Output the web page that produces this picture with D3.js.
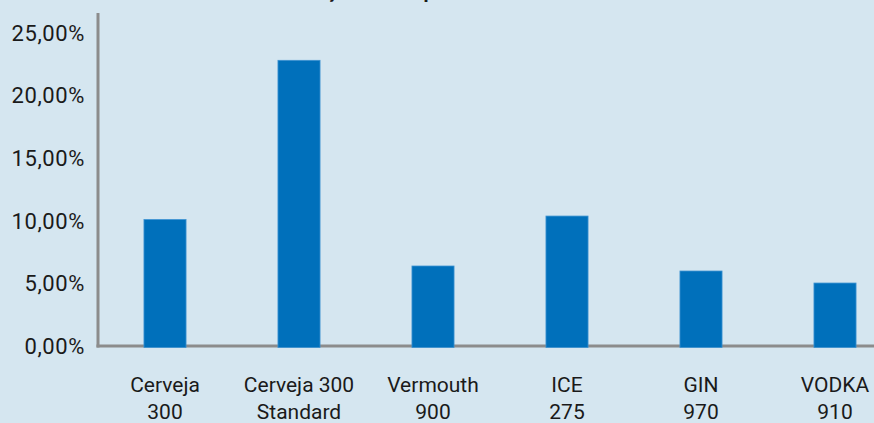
<!DOCTYPE html>
<html>
<head>
<meta charset="utf-8">
<script src="https://cdn.jsdelivr.net/npm/d3@7"></script>
<style>
  html, body { margin: 0; padding: 0; background: #d5e6f0; }
  svg { display: block; }
  text { font-family: Roboto, "Noto Sans", sans-serif; fill: #1a1a1a; }
</style>
</head>
<body>
<svg id="chart" width="874" height="423"></svg>
<script>
const categories = [["Cerveja", "300"], ["Cerveja 300", "Standard"], ["Vermouth", "900"], ["ICE", "275"], ["GIN", "970"], ["VODKA", "910"]];
const values = [0.1010, 0.2282, 0.0639, 0.1038, 0.0599, 0.0503];
const yTicks = [0, 0.05, 0.10, 0.15, 0.20, 0.25];
const title = "Variação média por";

const W = 874, H = 423;
const svg = d3.select("#chart");
svg.append("rect").attr("width", W).attr("height", H).attr("fill", "#d5e6f0");

const x0 = 98, x1 = 902, yBottom = 346, yTop = 13;
const x = d3.scaleBand()
  .domain(categories.map((d, i) => i))
  .range([x0, x1])
  .paddingInner(0.686)
  .paddingOuter(0.343);
const y = d3.scaleLinear().domain([0, 0.266]).range([yBottom, yTop]);

// title (mostly cropped by the top edge, as in the reference)
svg.append("text")
  .attr("x", 279).attr("y", -2)
  .attr("font-size", 20).attr("font-weight", "bold")
  .text(title);

// y axis tick labels
const fmt = v => d3.format(".2f")(v * 100).replace(".", ",") + "%";
svg.append("g").selectAll("text").data(yTicks).join("text")
  .attr("x", 85)
  .attr("y", d => y(d))
  .attr("dy", "0.35em")
  .attr("text-anchor", "end")
  .attr("font-size", 22)
  .attr("letter-spacing", 0.6)
  .text(fmt);

// axis lines
svg.append("line")
  .attr("x1", x0).attr("x2", x0)
  .attr("y1", y(0.266)).attr("y2", y(0) + 1.5)
  .attr("stroke", "#8c8c8c").attr("stroke-width", 3);
svg.append("line")
  .attr("x1", x0 - 1.5).attr("x2", W)
  .attr("y1", y(0)).attr("y2", y(0))
  .attr("stroke", "#8c8c8c").attr("stroke-width", 3);

// bars
svg.append("g").selectAll("rect").data(values).join("rect")
  .attr("x", (d, i) => x(i))
  .attr("width", x.bandwidth())
  .attr("y", d => y(d))
  .attr("height", d => y(0) - y(d) + 1.5)
  .attr("fill", "#0070bb")
  .attr("stroke", "#3d93d2")
  .attr("stroke-width", 0.8);

// x labels
const lab = svg.append("g").selectAll("text").data(categories).join("text")
  .attr("text-anchor", "middle")
  .attr("font-size", 21);
lab.append("tspan")
  .attr("x", (d, i) => x(i) + x.bandwidth() / 2)
  .attr("y", 392)
  .text(d => d[0]);
lab.append("tspan")
  .attr("x", (d, i) => x(i) + x.bandwidth() / 2)
  .attr("y", 419)
  .text(d => d[1]);
</script>
</body>
</html>
